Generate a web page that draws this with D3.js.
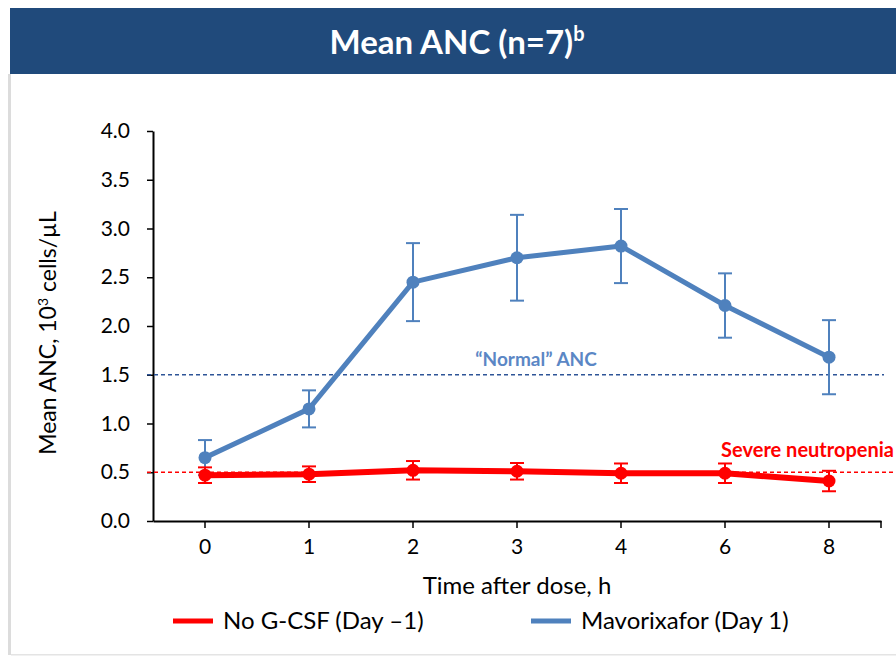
<!DOCTYPE html>
<html><head><meta charset="utf-8">
<script src="https://cdn.jsdelivr.net/npm/d3@7"></script>
<style>body{margin:0;background:#fff}svg{display:block}</style>
</head><body>
<svg id="c" width="896" height="656"></svg>
<script>
const categories = ["0","1","2","3","4","6","8"];
const noGcsf = [0.47,0.48,0.52,0.51,0.49,0.49,0.41];
const noGcsfErr = [0.08,0.08,0.095,0.085,0.10,0.10,0.105];
const mavorixafor = [0.65,1.15,2.45,2.70,2.82,2.21,1.68];
const mavorixaforErr = [0.18,0.19,0.40,0.44,0.38,0.33,0.38];
const yTicks = [0,0.5,1,1.5,2,2.5,3,3.5,4];
const refNormal = 1.5, refSevere = 0.5;

const svg = d3.select("#c");
const font = "Lato, 'Open Sans', sans-serif";
const blue = "#4f81bd", red = "#ff0000";

// panel
svg.append("rect").attr("x",8).attr("y",74).attr("width",3).attr("height",581).attr("fill","#dcdcdc");
svg.append("rect").attr("x",11).attr("y",654).attr("width",885).attr("height",1.5).attr("fill","#e4e4e4");
svg.append("rect").attr("x",10).attr("y",8).attr("width",886).attr("height",66).attr("fill","#204a7b");
const title = svg.append("text").attr("x",457).attr("y",54).attr("text-anchor","middle")
  .attr("fill","#fff").attr("font-family",font).attr("font-weight","bold").attr("font-size",33);
title.append("tspan").text("Mean ANC (n=7)");
title.append("tspan").attr("dy",-13).attr("font-size",20).text("b");

const x = d3.scaleBand().domain(categories).range([153,881]);
const y = d3.scaleLinear().domain([0,4]).range([521,131]);
const cx = d => x(d)+x.bandwidth()/2;

// axes
const yAxis = svg.append("g").attr("transform","translate(153,0)")
  .call(d3.axisLeft(y).tickValues(yTicks).tickFormat(d3.format(".1f")).tickSize(6).tickSizeOuter(0));
const xAxis = svg.append("g").attr("transform","translate(0,521)")
  .call(d3.axisBottom(x).tickSize(7).tickSizeOuter(0));
[yAxis,xAxis].forEach(g=>{
  g.select(".domain").attr("stroke","#000").attr("stroke-width",2);
  g.selectAll(".tick line").attr("stroke","#000").attr("stroke-width",1.5);
  g.selectAll(".tick text").attr("font-family",font).attr("font-size",21).attr("fill","#000");
});
yAxis.selectAll(".tick text").attr("x",-23);
xAxis.selectAll(".tick text").attr("y",18);
xAxis.append("line").attr("x1",881).attr("x2",881).attr("y1",0).attr("y2",7).attr("stroke","#000").attr("stroke-width",1.5);

// reference lines
svg.append("line").attr("x1",147).attr("x2",884).attr("y1",y(refNormal)).attr("y2",y(refNormal))
  .attr("stroke","#2e5597").attr("stroke-width",1.5).attr("stroke-dasharray","4,3");
svg.append("line").attr("x1",147).attr("x2",893).attr("y1",y(refSevere)).attr("y2",y(refSevere))
  .attr("stroke",red).attr("stroke-width",1.5).attr("stroke-dasharray","4,3");
svg.append("text").attr("x",536).attr("y",y(refNormal)-9).attr("text-anchor","middle")
  .attr("fill","#5b87c5").attr("font-family",font).attr("font-weight","bold").attr("font-size",19)
  .text("\u201cNormal\u201d ANC");
svg.append("text").attr("x",894).attr("y",y(refSevere)-15).attr("text-anchor","end")
  .attr("fill",red).attr("font-family",font).attr("font-weight","bold").attr("font-size",20)
  .text("Severe neutropenia");

function series(vals, errs, color, lw){
  const g = svg.append("g");
  vals.forEach((v,i)=>{
    const c = cx(categories[i]);
    g.append("line").attr("x1",c).attr("x2",c).attr("y1",y(v+errs[i])).attr("y2",y(v-errs[i])).attr("stroke",color).attr("stroke-width",2);
    [v+errs[i], v-errs[i]].forEach(e=>g.append("line").attr("x1",c-7).attr("x2",c+7).attr("y1",y(e)).attr("y2",y(e)).attr("stroke",color).attr("stroke-width",2));
  });
  g.append("path").datum(vals).attr("fill","none").attr("stroke",color).attr("stroke-width",lw)
    .attr("stroke-linejoin","round")
    .attr("d", d3.line().x((d,i)=>cx(categories[i])).y(d=>y(d)));
  g.selectAll("circle").data(vals).join("circle").attr("cx",(d,i)=>cx(categories[i])).attr("cy",d=>y(d)).attr("r",6.5).attr("fill",color);
}
series(mavorixafor, mavorixaforErr, blue, 5);
series(noGcsf, noGcsfErr, red, 6);

// axis titles
svg.append("text").attr("x",517).attr("y",594).attr("text-anchor","middle").attr("font-family",font).attr("font-size",24).text("Time after dose, h");
const yt = svg.append("text").attr("transform","translate(56,333) rotate(-90)").attr("text-anchor","middle").attr("font-family",font).attr("font-size",23);
yt.append("tspan").text("Mean ANC, 10");
yt.append("tspan").attr("dy",-8).attr("font-size",14).text("3");
yt.append("tspan").attr("dy",8).text(" cells/\u00b5L");

// legend
const legend = [["No G-CSF (Day \u20131)", red, 173], ["Mavorixafor (Day 1)", blue, 531]];
legend.forEach(([t,c,lx])=>{
  svg.append("line").attr("x1",lx).attr("x2",lx+40).attr("y1",621).attr("y2",621).attr("stroke",c).attr("stroke-width",5);
  svg.append("text").attr("x",lx+50).attr("y",629).attr("font-family",font).attr("font-size",24).text(t);
});
</script>
</body></html>
